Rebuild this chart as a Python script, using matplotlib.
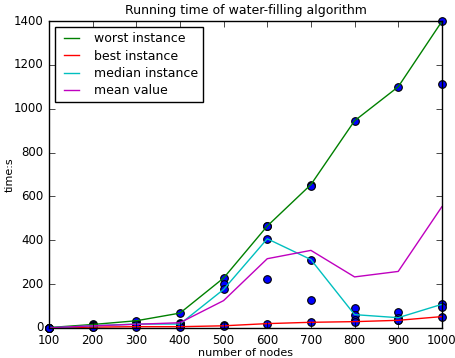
"""
Running time of water-filling algorithm
"""
import matplotlib
matplotlib.use("Agg")
import matplotlib.pyplot as plt

nodes = [100, 200, 300, 400, 500, 600, 700, 800, 900, 1000]

# measured running times, five instances per size
instances = [
    [2, 1, 1, 0, 0],
    [16, 14, 10, 6, 4],
    [33, 18, 18, 12, 6],
    [68, 22, 18, 8, 6],
    [228, 199, 176, 12, 10],
    [465, 463, 407, 225, 20],
    [654, 649, 312, 129, 26],
    [945, 93, 61, 37, 29],
    [1100, 73, 47, 35, 35],
    [1398, 1115, 108, 94, 52],
]

worst = [2, 16, 33, 68, 228, 465, 654, 945, 1100, 1398]
best = [0, 4, 6, 6, 10, 20, 26, 29, 35, 52]
median = [1, 10, 18, 18, 176, 407, 312, 61, 47, 108]
mean = [1, 10, 17, 24, 125, 316, 354, 233, 258, 553]

plt.style.use("classic")
fig = plt.figure(figsize=(4.56, 3.58), dpi=100)
ax = fig.add_axes([0.1075, 0.0838, 0.8615, 0.8575])

# set dots
for x, vals in zip(nodes, instances):
    ax.plot([x] * len(vals), vals, "o", color="b", markeredgecolor="k",
            markersize=5.5, markeredgewidth=0.8, clip_on=False)

ax.plot(nodes, worst, color="g", label="worst instance")
ax.plot(nodes, best, color="r", label="best instance")
ax.plot(nodes, median, color="c", label="median instance")
ax.plot(nodes, mean, color="m", label="mean value")

ax.set_xlim(100, 1000)
ax.set_ylim(0, 1400)
ax.set_xticks(nodes)
ax.tick_params(labelsize=8.5)
ax.set_xlabel("number of nodes", fontsize=8, labelpad=1)
ax.set_ylabel("time:s", fontsize=8, labelpad=-1)
ax.set_title("Running time of water-filling algorithm", fontsize=9)
ax.legend(loc="upper left", fontsize=9, handlelength=1.8, handletextpad=0.9,
          labelspacing=0.35, borderaxespad=0.5)

fig.savefig("out.png", dpi=100)
